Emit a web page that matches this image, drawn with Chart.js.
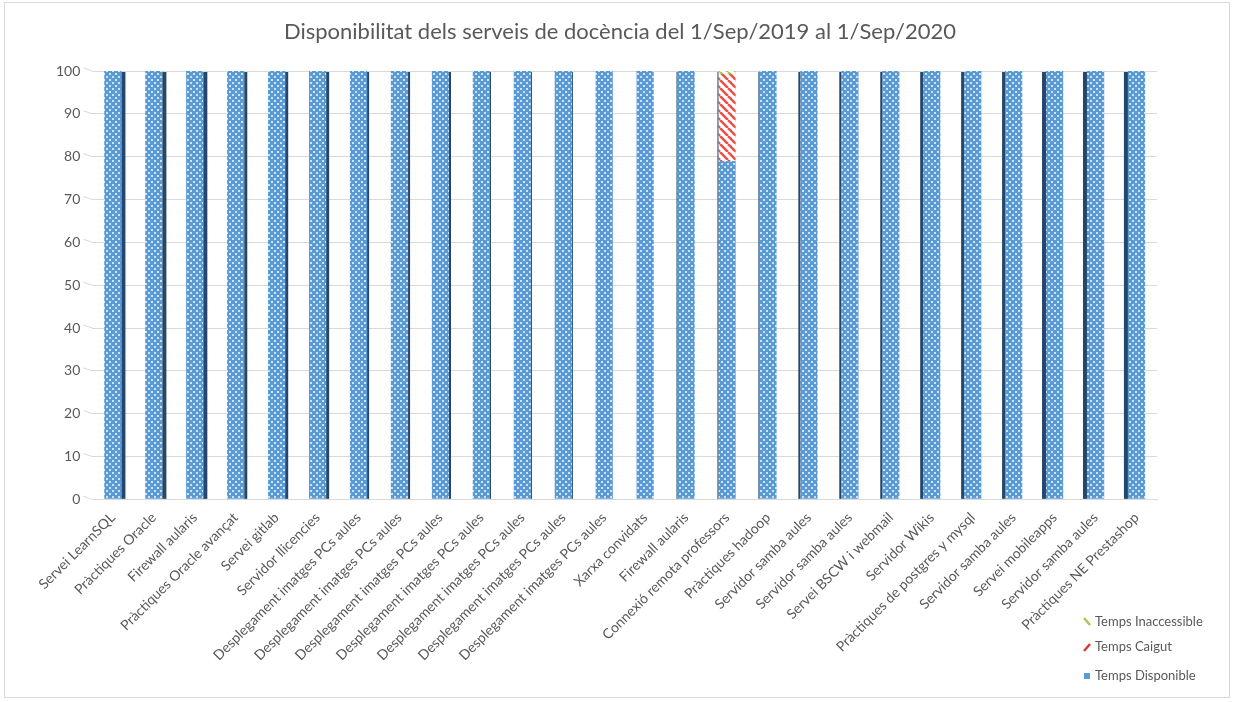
<!DOCTYPE html>
<html>
<head>
<meta charset="utf-8">
<script src="https://cdn.jsdelivr.net/npm/chart.js@4/dist/chart.umd.min.js"></script>
<style>
	html, body { margin: 0; padding: 0; background: #fff; }
	#wrap { position: relative; width: 1237px; height: 702px; }
	#frame { position: absolute; left: 4px; top: 2px; width: 1226px; height: 696px; border: 1px solid #d9d9d9; box-sizing: border-box; }
</style>
</head>
<body>
<div id="wrap">
	<div id="frame"></div>
	<canvas id="myChart" width="1237" height="702"></canvas>
</div>
<script>
const titol = 'Disponibilitat dels serveis de docència del 1/Sep/2019 al 1/Sep/2020';
const serveis = [
	'Servei LearnSQL', 'Pràctiques Oracle', 'Firewall aularis', 'Pràctiques Oracle avançat',
	'Servei gitlab', 'Servidor llicencies', 'Desplegament imatges PCs aules',
	'Desplegament imatges PCs aules', 'Desplegament imatges PCs aules',
	'Desplegament imatges PCs aules', 'Desplegament imatges PCs aules',
	'Desplegament imatges PCs aules', 'Desplegament imatges PCs aules',
	'Xarxa convidats', 'Firewall aularis', 'Connexió remota professors',
	'Pràctiques hadoop', 'Servidor samba aules', 'Servidor samba aules',
	'Servei BSCW i webmail', 'Servidor Wikis', 'Pràctiques de postgres y mysql',
	'Servidor samba aules', 'Servei mobileapps', 'Servidor samba aules',
	'Pràctiques NE Prestashop'
];
const tempsDisponible = [100, 100, 100, 100, 100, 100, 100, 100, 100, 100, 100, 100, 100,
	100, 100, 79.0, 100, 100, 100, 100, 100, 100, 100, 100, 100, 100];
const tempsCaigut = [0, 0, 0, 0, 0, 0, 0, 0, 0, 0, 0, 0, 0,
	0, 0, 20.3, 0, 0, 0, 0, 0, 0, 0, 0, 0, 0];
const tempsInaccessible = [0, 0, 0, 0, 0, 0, 0, 0, 0, 0, 0, 0, 0,
	0, 0, 0.7, 0, 0, 0, 0, 0, 0, 0, 0, 0, 0];
const yTicks = [0, 10, 20, 30, 40, 50, 60, 70, 80, 90, 100];

const FONT = 'Lato, "Open Sans", sans-serif';
const TEXT = '#595959';

function dotPattern() {
	let c = document.createElement('canvas');
	c.width = 6; c.height = 6;
	let g = c.getContext('2d');
	g.fillStyle = '#5b9bd5';
	g.fillRect(0, 0, 6, 6);
	g.fillStyle = '#cfe2f5';
	g.fillRect(1, 1, 2, 2);
	g.fillRect(4, 4, 2, 2);
	return g.createPattern(c, 'repeat');
}
function stripePattern(color) {
	let c = document.createElement('canvas');
	c.width = 8; c.height = 8;
	let g = c.getContext('2d');
	g.fillStyle = '#ffffff';
	g.fillRect(0, 0, 8, 8);
	g.strokeStyle = color;
	g.lineWidth = 2.6;
	g.beginPath();
	for (let k = -8; k <= 16; k += 8) {
		g.moveTo(k, 0);
		g.lineTo(k + 8, 8);
	}
	g.stroke();
	return g.createPattern(c, 'repeat');
}

// dark 3D side of the bars + slanted floor stubs of the grid lines
const depthPlugin = {
	id: 'depth',
	beforeDatasetsDraw(chart) {
		let ctx = chart.ctx, a = chart.chartArea, y = chart.scales.y;
		ctx.save();
		ctx.strokeStyle = '#d9d9d9';
		ctx.lineWidth = 1;
		yTicks.forEach(function (v) {
			let py = y.getPixelForValue(v);
			ctx.beginPath();
			ctx.moveTo(a.left - 9, py - 3);
			ctx.lineTo(a.left, py);
			ctx.stroke();
		});
		ctx.restore();
	},
	afterDatasetsDraw(chart) {
		let ctx = chart.ctx, a = chart.chartArea;
		let mid = (a.left + a.right) / 2;
		let meta = chart.getDatasetMeta(0);
		ctx.save();
		ctx.fillStyle = '#24476b';
		meta.data.forEach(function (bar) {
			let top = chart.scales.y.getPixelForValue(100);
			let w = Math.round((bar.x - mid) / (mid - a.left) * -4.5);
			let half = bar.width / 2;
			if (w > 0) ctx.fillRect(bar.x + half, top + 1, w, bar.base - top - 1);
			else if (w < 0) ctx.fillRect(bar.x - half + w, top + 1, -w, bar.base - top - 1);
		});
		ctx.restore();
	}
};

// title centred on the whole frame, legend in the lower right corner
const textPlugin = {
	id: 'frameText',
	afterDraw(chart) {
		let ctx = chart.ctx;
		ctx.save();
		ctx.font = '22px ' + FONT;
		ctx.fillStyle = TEXT;
		ctx.textAlign = 'center';
		ctx.textBaseline = 'middle';
		ctx.fillText(titol, 620, 32);

		let items = [2, 1, 0];
		let ys = [622, 647, 676];
		ctx.font = '13px ' + FONT;
		ctx.textAlign = 'left';
		items.forEach(function (i, k) {
			let ds = chart.data.datasets[i];
			let y = ys[k];
			if (i === 0) {
				ctx.fillStyle = ds.legendColor;
				ctx.fillRect(1084, y - 3, 6, 6);
			} else {
				ctx.strokeStyle = ds.legendColor;
				ctx.lineWidth = 2.5;
				ctx.beginPath();
				if (i === 2) { ctx.moveTo(1084, y - 4); ctx.lineTo(1090, y + 3); }
				else { ctx.moveTo(1084, y + 4); ctx.lineTo(1090, y - 3); }
				ctx.stroke();
			}
			ctx.fillStyle = TEXT;
			ctx.fillText(ds.label, 1095, y);
		});
		ctx.restore();
	}
};

let ctx = document.getElementById('myChart').getContext('2d');
let myChart = new Chart(ctx, {
	type: 'bar',
	data: {
		labels: serveis,
		datasets: [
			{
				label: 'Temps Disponible',
				data: tempsDisponible,
				backgroundColor: dotPattern(),
				legendColor: '#5b9bd5',
				categoryPercentage: 1,
				barPercentage: 0.42
			},
			{
				label: 'Temps Caigut',
				data: tempsCaigut,
				backgroundColor: stripePattern('#e8544a'),
				legendColor: '#e03a30',
				categoryPercentage: 1,
				barPercentage: 0.42
			},
			{
				label: 'Temps Inaccessible',
				data: tempsInaccessible,
				backgroundColor: stripePattern('#a9c94f'),
				legendColor: '#a9c94f',
				categoryPercentage: 1,
				barPercentage: 0.42
			}
		]
	},
	options: {
		responsive: false,
		animation: false,
		layout: { padding: { top: 71, right: 80, left: 44, bottom: 36 } },
		plugins: {
			legend: { display: false },
			tooltip: { enabled: false },
			title: { display: false }
		},
		scales: {
			x: {
				stacked: true,
				grid: { display: false },
				border: { color: '#d9d9d9' },
				ticks: {
					color: TEXT,
					font: { family: FONT, size: 14 },
					minRotation: 45,
					maxRotation: 45,
					autoSkip: false,
					padding: 2
				}
			},
			y: {
				stacked: true,
				min: 0,
				max: 100,
				afterBuildTicks: function (axis) {
					axis.ticks = yTicks.map(function (v) { return { value: v }; });
				},
				grid: { color: '#d9d9d9', drawTicks: false },
				border: { display: false },
				ticks: {
					color: TEXT,
					font: { family: FONT, size: 14 },
					padding: 12
				}
			}
		}
	},
	plugins: [depthPlugin, textPlugin]
});
</script>
</body>
</html>
